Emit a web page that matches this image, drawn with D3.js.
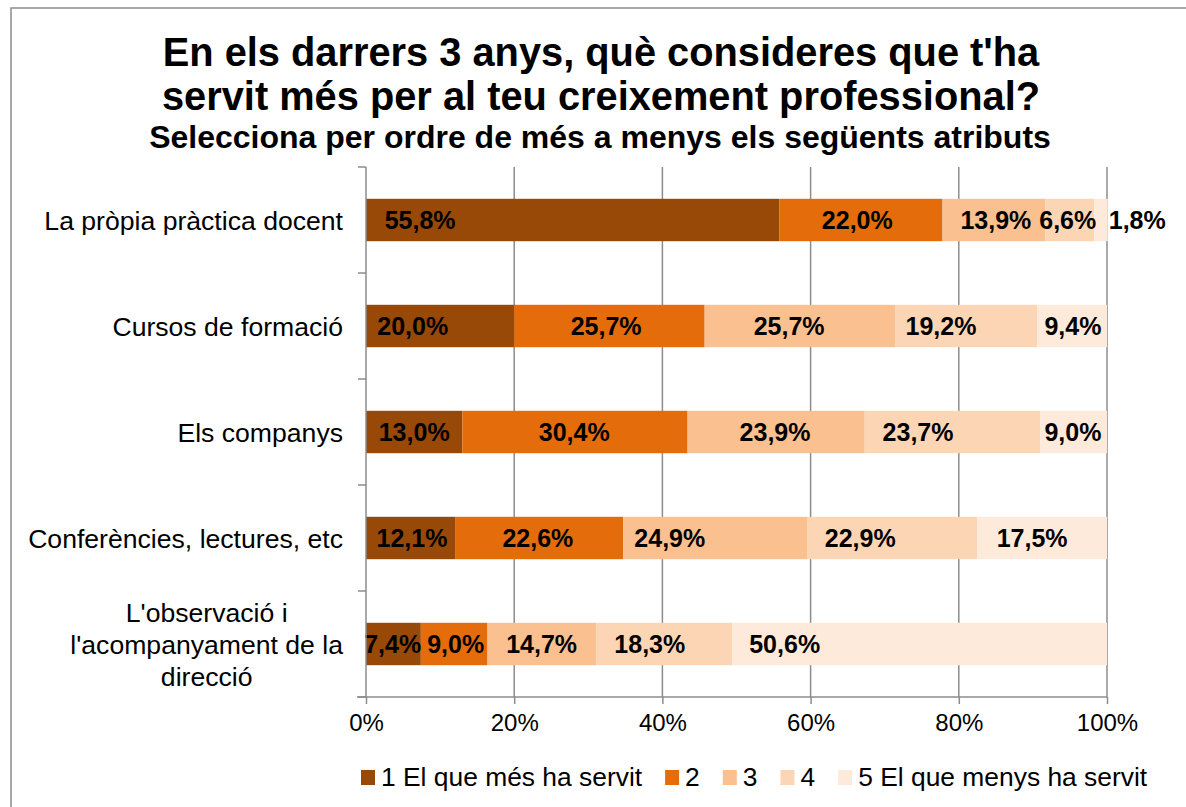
<!DOCTYPE html>
<html>
<head>
<meta charset="utf-8">
<script src="https://cdn.jsdelivr.net/npm/d3@7"></script>
<style>
  html, body { margin: 0; padding: 0; background: #fff; }
  svg { display: block; font-family: "Liberation Sans", Arial, sans-serif; }
</style>
</head>
<body>
<svg id="chart" width="1186" height="807"></svg>
<script>
// ---- data ----
const titleLines = ["En els darrers 3 anys, què consideres que t'ha", "servit més per al teu creixement professional?"];
const subtitle = "Selecciona per ordre de més a menys els següents atributs";
const categories = [
  "La pròpia pràctica docent",
  "Cursos de formació",
  "Els companys",
  "Conferències, lectures, etc",
  "L'observació i l'acompanyament de la direcció"
];
const seriesNames = ["1 El que més ha servit", "2", "3", "4", "5 El que menys ha servit"];
const s1 = [55.8, 20.0, 13.0, 12.1, 7.4];
const s2 = [22.0, 25.7, 30.4, 22.6, 9.0];
const s3 = [13.9, 25.7, 23.9, 24.9, 14.7];
const s4 = [6.6, 19.2, 23.7, 22.9, 18.3];
const s5 = [1.8, 9.4, 9.0, 17.5, 50.6];
// where each data label sits along the % axis (as placed in the original chart)
const labelAt1 = [7.3, 6.3, 6.5, 6.2, 3.6];
const labelAt2 = [66.3, 32.4, 28.1, 23.2, 12.1];
const labelAt3 = [85.0, 57.1, 55.2, 41.0, 23.7];
const labelAt4 = [94.7, 77.6, 74.5, 66.7, 38.3];
const labelAt5 = [null, 95.4, 95.4, 89.9, 56.5];
const colors = ["#984807", "#E46C0A", "#FAC090", "#FCD5B5", "#FDEADA"];
const xTicks = [0, 20, 40, 60, 80, 100];

// ---- layout ----
const svg = d3.select("#chart");
const plot = { left: 366, right: 1107, top: 167, bottom: 697 };
const gridColor = "#8c8c8c";

const x = d3.scaleLinear().domain([0, 100]).range([plot.left, plot.right]);
const y = d3.scaleBand().domain(categories).range([plot.top, plot.bottom]).paddingInner(0.6).paddingOuter(0.3);
const yBound = d3.scaleLinear().domain([0, categories.length]).range([plot.top, plot.bottom]);

// border
svg.append("rect").attr("x", 11).attr("y", 8).attr("width", 1300).attr("height", 900)
  .attr("fill", "#fff").attr("stroke", "#8c8c8c").attr("stroke-width", 1.5);

// title
const tg = svg.append("g").attr("text-anchor", "middle").attr("font-weight", "bold").attr("fill", "#000");
tg.selectAll("text.t").data(titleLines).join("text").attr("class", "t")
  .attr("x", 601).attr("y", (d, i) => 66 + i * 44)
  .attr("font-size", 39.8).text(d => d);
tg.append("text").attr("x", 600).attr("y", 148).attr("font-size", 32).text(subtitle);

// gridlines
svg.append("g").selectAll("line").data(xTicks.filter(d => d > 0)).join("line")
  .attr("x1", d => x(d)).attr("x2", d => x(d))
  .attr("y1", plot.top).attr("y2", plot.bottom)
  .attr("stroke", gridColor).attr("stroke-width", 1.5);

// stacked data
const seriesVals = [s1, s2, s3, s4, s5];
const labelAts = [labelAt1, labelAt2, labelAt3, labelAt4, labelAt5];
const rows = categories.map((c, i) => {
  const o = { cat: c, idx: i };
  seriesVals.forEach((s, k) => o["k" + k] = s[i]);
  return o;
});
const keys = seriesNames.map((d, k) => "k" + k);
const stack = d3.stack().keys(keys)(rows);

const bars = svg.append("g");
stack.forEach((layer, k) => {
  bars.append("g").attr("fill", colors[k]).selectAll("rect").data(layer).join("rect")
    .attr("x", d => x(d[0]))
    .attr("y", d => y(d.data.cat))
    .attr("width", d => x(d[1]) - x(d[0]))
    .attr("height", y.bandwidth());
});

// value labels
const lab = svg.append("g").attr("font-weight", "bold").attr("font-size", 25).attr("fill", "#000");
stack.forEach((layer, k) => {
  layer.forEach(d => {
    const v = seriesVals[k][d.data.idx];
    const txt = v.toFixed(1).replace(".", ",") + "%";
    const t = lab.append("text")
      .attr("y", y(d.data.cat) + y.bandwidth() / 2)
      .attr("dy", "0.36em")
      .text(txt);
    const at = labelAts[k][d.data.idx];
    if (at == null) {
      // too narrow: label placed just after the end of the bar
      t.attr("x", x(d[1]) + 1).attr("text-anchor", "start");
    } else {
      t.attr("x", x(at)).attr("text-anchor", "middle");
    }
  });
});

// y axis
const ya = svg.append("g").attr("stroke", gridColor).attr("stroke-width", 1.5);
ya.append("line").attr("x1", plot.left).attr("x2", plot.left).attr("y1", plot.top).attr("y2", plot.bottom);
ya.selectAll("line.tk").data(d3.range(categories.length + 1)).join("line").attr("class", "tk")
  .attr("x1", plot.left - 8).attr("x2", plot.left)
  .attr("y1", d => yBound(d)).attr("y2", d => yBound(d));

// x axis
const xa = svg.append("g").attr("transform", `translate(0,${plot.bottom})`)
  .call(d3.axisBottom(x).tickValues(xTicks).tickSize(7).tickPadding(10).tickFormat(d => d + "%"));
xa.select(".domain").attr("stroke", gridColor).attr("stroke-width", 1.5).attr("d", `M${plot.left - 9},0H${plot.right}`);
xa.selectAll(".tick line").attr("stroke", gridColor).attr("stroke-width", 1.5);
xa.selectAll(".tick text").attr("font-size", 24).attr("fill", "#000").attr("font-family", "Liberation Sans, Arial, sans-serif").attr("dy", "0.71em");

// category labels with wrapping
const catG = svg.append("g").attr("font-size", 26.6).attr("fill", "#000");
const maxW = 330;
const lineH = 32;
categories.forEach(c => {
  const words = c.split(" ");
  const lines = [];
  let cur = "";
  const probe = catG.append("text");
  words.forEach(wd => {
    const test = cur ? cur + " " + wd : wd;
    probe.text(test);
    if (probe.node().getComputedTextLength() > maxW && cur) { lines.push(cur); cur = wd; }
    else cur = test;
  });
  lines.push(cur);
  const widths = lines.map(l => { probe.text(l); return probe.node().getComputedTextLength(); });
  probe.remove();
  const blockW = d3.max(widths);
  const rightX = 343;
  const cy = y(c) + y.bandwidth() / 2;
  const t = catG.append("text")
    .attr("text-anchor", lines.length > 1 ? "middle" : "end");
  lines.forEach((l, i) => {
    t.append("tspan")
      .attr("x", lines.length > 1 ? rightX - blockW / 2 : rightX)
      .attr("y", cy + (i - (lines.length - 1) / 2) * lineH)
      .attr("dy", "0.36em")
      .text(l);
  });
});

// legend
const leg = svg.append("g").attr("font-size", 26.4).attr("fill", "#000");
let lx = 361;
const ly = 770;
seriesNames.forEach((n, k) => {
  leg.append("rect").attr("x", lx).attr("y", ly).attr("width", 14).attr("height", 15).attr("fill", colors[k]);
  const t = leg.append("text").attr("x", lx + 20).attr("y", ly + 16).text(n);
  lx += 20 + t.node().getComputedTextLength() + 23;
});
</script>
</body>
</html>
